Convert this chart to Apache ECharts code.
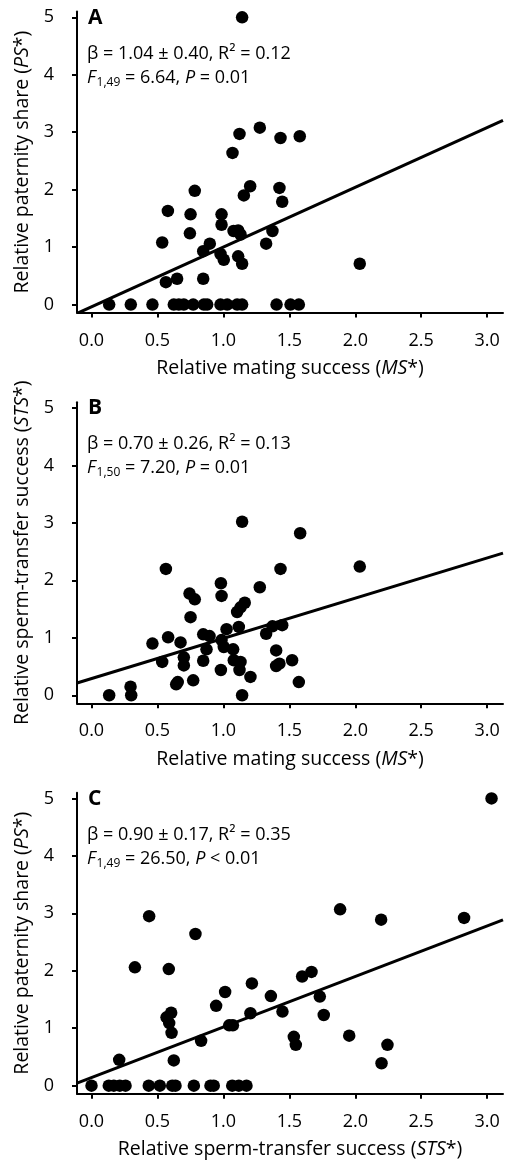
<!DOCTYPE html>
<html><head><meta charset="utf-8">
<script src="https://cdn.jsdelivr.net/npm/echarts@6/dist/echarts.min.js"></script>
<style>html,body{margin:0;padding:0;background:#fff}#c{width:508px;height:1164px}</style>
</head><body><div id="c"></div>
<script>
// ---- data ----
const xTickValues = [0, 0.5, 1.0, 1.5, 2.0, 2.5, 3.0];
const yTickValues = [0, 1, 2, 3, 4, 5];
const panelLetters = ['A', 'B', 'C'];
const xAxisNames = [
  'Relative mating success ({it|MS}*)',
  'Relative mating success ({it|MS}*)',
  'Relative sperm-transfer success ({it|STS}*)'
];
const yAxisNames = [
  'Relative paternity share ({it|PS}*)',
  'Relative sperm-transfer success ({it|STS}*)',
  'Relative paternity share ({it|PS}*)'
];
const statBeta = ['1.04 ± 0.40', '0.70 ± 0.26', '0.90 ± 0.17'];
const statR2 = ['0.12', '0.13', '0.35'];
const statDf = ['1,49', '1,50', '1,49'];
const statF = ['6.64', '7.20', '26.50'];
const statP = ['= 0.01', '= 0.01', '< 0.01'];
const fitSlopes = [1.04, 0.70, 0.88];
const fitIntercepts = [-0.04, 0.29, 0.14];

const panelA_x = [1.142,1.122,1.276,1.433,1.579,1.069,0.783,1.203,1.155,1.425,1.446,0.579,0.751,0.986,0.986,0.746,1.077,1.112,1.130,1.372,0.536,1.324,0.897,0.847,0.978,1.003,1.112,1.142,2.034,0.564,0.649,0.847,
  0.134,0.298,0.462,0.624,0.662,0.700,0.771,0.852,0.877,0.978,1.029,1.104,1.142,1.403,1.509,1.572];
const panelA_y = [5.00,2.97,3.08,2.90,2.93,2.64,1.98,2.06,1.90,2.03,1.79,1.63,1.57,1.57,1.39,1.24,1.28,1.29,1.22,1.28,1.08,1.06,1.06,0.93,0.88,0.78,0.84,0.71,0.71,0.39,0.45,0.45,
  0,0,0,0,0,0,0,0,0,0,0,0,0,0,0,0];

const panelB_x = [1.142,1.582,0.564,1.433,2.034,0.981,1.276,0.743,0.783,0.986,1.162,1.130,1.104,0.751,1.024,1.117,1.372,1.446,1.324,0.581,0.847,0.895,0.462,0.675,0.986,1.003,0.872,1.074,1.400,0.536,0.700,0.700,0.847,1.079,1.130,1.122,1.425,1.400,1.521,0.981,1.205,0.771,0.642,0.654,1.572,0.296,0.134,0.301,1.142];
const panelB_y = [3.02,2.82,2.20,2.20,2.24,1.95,1.88,1.77,1.67,1.73,1.61,1.53,1.45,1.36,1.15,1.19,1.20,1.22,1.07,1.01,1.06,1.03,0.90,0.92,0.96,0.84,0.80,0.80,0.78,0.58,0.66,0.52,0.60,0.61,0.58,0.44,0.55,0.51,0.61,0.44,0.32,0.26,0.19,0.23,0.23,0.15,0.00,0.00,0.00];

const panelC_x = [3.033,0.437,1.885,2.196,2.825,0.788,0.329,0.586,1.216,1.597,1.668,1.013,1.360,0.945,1.731,0.604,0.569,0.589,0.607,1.205,1.448,1.761,1.044,1.072,0.831,1.534,1.549,1.954,2.244,2.199,0.210,0.624,
  0.0,0.131,0.169,0.214,0.258,0.434,0.518,0.612,0.637,0.776,0.902,0.927,1.067,1.117,1.175];
const panelC_y = [5.00,2.95,3.07,2.89,2.92,2.64,2.06,2.03,1.78,1.90,1.98,1.63,1.56,1.39,1.55,1.27,1.19,1.09,0.92,1.26,1.29,1.23,1.05,1.05,0.78,0.85,0.71,0.87,0.71,0.39,0.45,0.44,
  0,0,0,0,0,0,0,0,0,0,0,0,0,0,0];

const panelsX = [panelA_x, panelB_x, panelC_x];
const panelsY = [panelA_y, panelB_y, panelC_y];

// ---- layout / style ----
const FONT = 'Open Sans';
const X_MIN = -0.11, X_MAX = 3.12, Y_MIN = -0.14, Y_MAX = 5.1;
const gridTops = [11.6, 402.3, 792.7];
const GRID_LEFT = 77, GRID_W = 426, GRID_H = 301;
const NAME_FS = 19.5, TICK_FS = 18, STAT_FS = 18;

const chart = echarts.init(document.getElementById('c'), null, {renderer: 'canvas'});
const italicRich = {it: {fontStyle: 'italic', fontFamily: FONT, fontSize: NAME_FS, color: '#000'}};

const grid = [], xAxis = [], yAxis = [], series = [], graphic = [];
for (let i = 0; i < 3; i++) {
  grid.push({left: GRID_LEFT, top: gridTops[i], width: GRID_W, height: GRID_H});
  xAxis.push({
    gridIndex: i, type: 'value', min: X_MIN, max: X_MAX,
    name: xAxisNames[i], nameLocation: 'middle', nameGap: 46,
    nameTextStyle: {fontFamily: FONT, fontSize: NAME_FS, color: '#000', rich: italicRich},
    axisLine: {onZero: false, lineStyle: {color: '#000', width: 2}},
    axisTick: {show: true, length: 5, lineStyle: {color: '#000', width: 2}, customValues: xTickValues},
    axisLabel: {fontFamily: FONT, fontSize: TICK_FS, color: '#000', margin: 19, customValues: xTickValues,
      formatter: v => v.toFixed(1)},
    splitLine: {show: false}
  });
  yAxis.push({
    gridIndex: i, type: 'value', min: Y_MIN, max: Y_MAX,
    name: yAxisNames[i], nameLocation: 'middle', nameGap: 41, nameRotate: 90,
    nameTextStyle: {fontFamily: FONT, fontSize: NAME_FS, color: '#000', rich: italicRich},
    axisLine: {onZero: false, lineStyle: {color: '#000', width: 2}},
    axisTick: {show: true, length: 5, lineStyle: {color: '#000', width: 2}, customValues: yTickValues},
    axisLabel: {fontFamily: FONT, fontSize: TICK_FS, color: '#000', margin: 23, customValues: yTickValues},
    splitLine: {show: false}
  });
  series.push({
    type: 'scatter', xAxisIndex: i, yAxisIndex: i,
    data: panelsX[i].map((x, k) => [x, panelsY[i][k]]),
    symbolSize: 12.5, itemStyle: {color: '#000', opacity: 1}, silent: true
  });
  series.push({
    type: 'line', xAxisIndex: i, yAxisIndex: i, showSymbol: false, silent: true, clip: true,
    data: [X_MIN, X_MAX].map(x => [x, fitSlopes[i] * x + fitIntercepts[i]]),
    lineStyle: {color: '#000', width: 3}
  });
  const top = gridTops[i];
  graphic.push({
    type: 'text', x: 88, y: top + 6, silent: true,
    style: {text: panelLetters[i], fontFamily: FONT, fontSize: 21, fontWeight: 'bold', fill: '#000', verticalAlign: 'middle'}
  });
  graphic.push({
    type: 'text', x: 87, y: top + 42, silent: true,
    style: {text: 'β = ' + statBeta[i] + ', R² = ' + statR2[i], fontFamily: FONT, fontSize: STAT_FS, fill: '#000', verticalAlign: 'middle'}
  });
  graphic.push({
    type: 'text', x: 87, y: top + 66, silent: true,
    style: {
      text: '{it|F}{sub|' + statDf[i] + '} = ' + statF[i] + ', {it|P} ' + statP[i],
      fontFamily: FONT, fontSize: STAT_FS, fill: '#000', verticalAlign: 'middle',
      rich: {
        it: {fontStyle: 'italic', fontFamily: FONT, fontSize: STAT_FS, fill: '#000'},
        sub: {fontFamily: FONT, fontSize: 12, fill: '#000', padding: [9, 0, 0, 1]}
      }
    }
  });
}

chart.setOption({animation: false, backgroundColor: '#fff', grid, xAxis, yAxis, series, graphic});
</script>
</body></html>
